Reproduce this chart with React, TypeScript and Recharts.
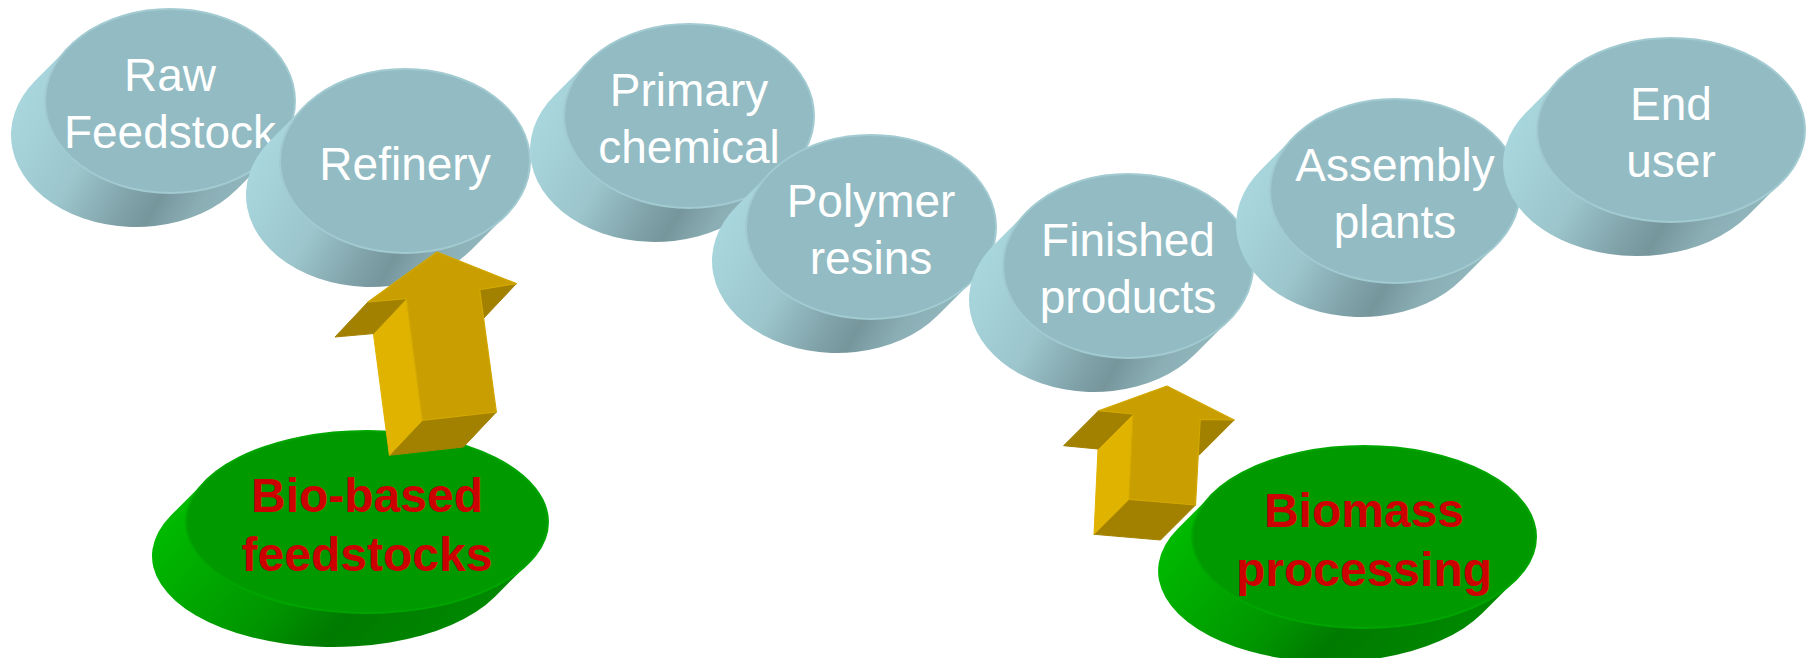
import { ScatterChart, Scatter, XAxis, YAxis } from "recharts";

// supply chain stages (blue disks)
const stageLabels = [
  ["Raw", "Feedstock"],
  ["Refinery"],
  ["Primary", "chemical"],
  ["Polymer", "resins"],
  ["Finished", "products"],
  ["Assembly", "plants"],
  ["End", "user"],
];
const stageX = [170, 405, 689, 871, 1128, 1395, 1671];
const stageY = [101, 161, 116, 227, 266, 191, 130];

// bio inputs (green disks)
const bioLabels = [
  ["Bio-based", "feedstocks"],
  ["Biomass", "processing"],
];
const bioX = [367, 1364];
const bioY = [522, 537];

// arrow tips
const arrowX = [437, 1167];
const arrowY = [252, 386];

const W = 1814;
const H = 658;
const DEPTH: [number, number] = [-34, 34];
const STAGE_RX = [125, 125, 125, 125, 125, 125, 134];
const STAGE_RY = 92;
const BIO_RX = [181, 172];
const BIO_RY = 91;

// front outline of each 3D arrow, relative to its tip
const ARROW_SHAPES: [number, number][][] = [
  [[0, 0], [79.4, 31.6], [42.7, 37.6], [59.4, 160], [-14.6, 168.3], [-30.6, 46.6], [-69, 50]],
  [[0, 0], [67.2, 34], [33.2, 33.3], [28.5, 119], [-38, 113.3], [-34, 28], [-68.4, 24.7]],
];
const ARROW_DEPTH: [number, number][] = [[-33, 35], [-35, 35]];

const stageData = stageX.map((x, i) => ({ x, y: stageY[i], i, lines: stageLabels[i] }));
const bioData = bioX.map((x, i) => ({ x, y: bioY[i], i, lines: bioLabels[i] }));
const arrowData = arrowX.map((x, i) => ({ x, y: arrowY[i], i }));

function bodyPath(cx: number, cy: number, rx: number, ry: number) {
  const [dx, dy] = DEPTH;
  const t = Math.atan2(ry * -dx, rx * dy);
  const p1 = [cx + rx * Math.cos(t), cy + ry * Math.sin(t)];
  const p2 = [cx - rx * Math.cos(t), cy - ry * Math.sin(t)];
  return (
    `M${p1[0]},${p1[1]} L${p2[0]},${p2[1]} L${p2[0] + dx},${p2[1] + dy} ` +
    `A${rx},${ry} 0 0 0 ${p1[0] + dx},${p1[1] + dy} Z`
  );
}

const Disk = (props: any) => {
  const { cx, cy, payload, kind } = props;
  const blue = kind === "stage";
  const rx = blue ? STAGE_RX[payload.i] : BIO_RX[payload.i];
  const ry = blue ? STAGE_RY : BIO_RY;
  const lines: string[] = payload.lines;
  const lh = blue ? 57 : 59;
  const cap = blue ? 33 : 35;
  const first = cy - ((lines.length - 1) * lh) / 2 + cap / 2 + 2;
  return (
    <g>
      <path d={bodyPath(cx, cy, rx, ry)} fill={blue ? "url(#blueBody)" : "url(#greenBody)"} />
      <ellipse
        cx={cx}
        cy={cy}
        rx={rx}
        ry={ry}
        fill={blue ? "#92bbc3" : "#009a00"}
        stroke={blue ? "#a2cad1" : "#00a600"}
        strokeWidth={2}
      />
      <text
        x={cx}
        textAnchor="middle"
        fontFamily="'Liberation Sans', Arial, sans-serif"
        fontSize={blue ? 46 : 48}
        fontWeight={blue ? 400 : 700}
        fill={blue ? "#ffffff" : "#cc0000"}
      >
        {lines.map((l, k) => (
          <tspan key={k} x={cx} y={first + k * lh}>
            {l}
          </tspan>
        ))}
      </text>
    </g>
  );
};

const Arrow = (props: any) => {
  const { cx, cy, payload } = props;
  const pts = ARROW_SHAPES[payload.i].map(([px, py]) => [cx + px, cy + py]);
  const [dx, dy] = ARROW_DEPTH[payload.i];
  const sides: { d: string; fill: string }[] = [];
  pts.forEach((a, k) => {
    const b = pts[(k + 1) % pts.length];
    const nx = b[1] - a[1];
    const ny = -(b[0] - a[0]);
    // only the faces turned toward the extrusion are seen
    if (nx * dx + ny * dy <= 0) return;
    const fill = Math.abs(nx) > Math.abs(ny) ? "#e0b300" : "#a38100";
    sides.push({
      d: `M${a[0]},${a[1]} L${b[0]},${b[1]} L${b[0] + dx},${b[1] + dy} L${a[0] + dx},${a[1] + dy} Z`,
      fill,
    });
  });
  const front = "M" + pts.map((p) => `${p[0]},${p[1]}`).join(" L") + " Z";
  return (
    <g strokeLinejoin="round">
      {sides.map((s, k) => (
        <path key={k} d={s.d} fill={s.fill} stroke={s.fill} strokeWidth={1} />
      ))}
      <path d={front} fill="#c89e00" stroke="#d2a800" strokeWidth={1.2} />
    </g>
  );
};

export default function App() {
  return (
    <div style={{ position: "absolute", left: 0, top: 0, background: "#ffffff" }}>
      <ScatterChart width={W} height={H} margin={{ top: 0, right: 0, bottom: 0, left: 0 }}>
        <defs>
          <linearGradient id="blueBody" x1="0" y1="0.3" x2="1" y2="0.7">
            <stop offset="0" stopColor="#aad8df" />
            <stop offset="0.35" stopColor="#9cc5cc" />
            <stop offset="0.6" stopColor="#7d9fa5" />
            <stop offset="0.68" stopColor="#76969c" />
            <stop offset="0.82" stopColor="#8aaeb4" />
            <stop offset="1" stopColor="#93b9c0" />
          </linearGradient>
          <linearGradient id="greenBody" x1="0" y1="0.3" x2="1" y2="0.7">
            <stop offset="0" stopColor="#00bb00" />
            <stop offset="0.45" stopColor="#009400" />
            <stop offset="0.62" stopColor="#007a00" />
            <stop offset="1" stopColor="#008c00" />
          </linearGradient>
        </defs>
        <XAxis type="number" dataKey="x" domain={[0, W]} allowDataOverflow hide />
        <YAxis type="number" dataKey="y" domain={[0, H]} allowDataOverflow reversed hide />
        <Scatter
          data={stageData}
          isAnimationActive={false}
          shape={(p: any) => <Disk {...p} kind="stage" />}
        />
        <Scatter
          data={bioData}
          isAnimationActive={false}
          shape={(p: any) => <Disk {...p} kind="bio" />}
        />
        <Scatter data={arrowData} isAnimationActive={false} shape={(p: any) => <Arrow {...p} />} />
      </ScatterChart>
    </div>
  );
}
